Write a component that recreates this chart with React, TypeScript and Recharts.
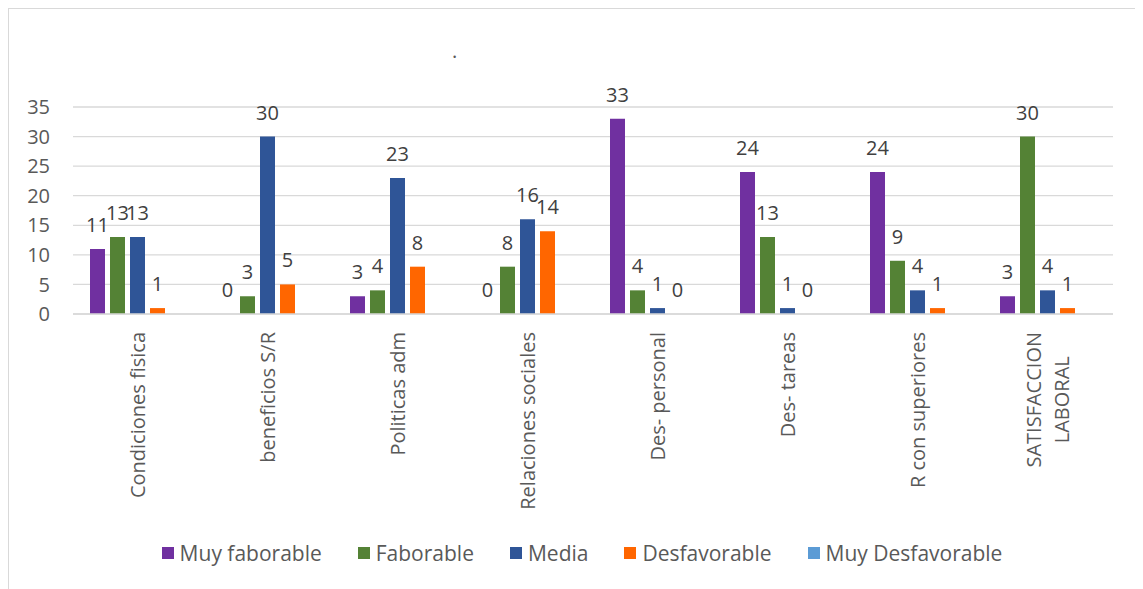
import { BarChart, Bar, XAxis, YAxis, CartesianGrid, Legend, LabelList } from "recharts";

const categories = [
  "Condiciones fisica",
  "beneficios S/R",
  "Politicas adm",
  "Relaciones sociales",
  "Des- personal",
  "Des- tareas",
  "R con superiores",
  "SATISFACCION LABORAL",
];

// how the category names wrap under the axis
const tickLabels = [
  "Condiciones fisica",
  "beneficios S/R",
  "Politicas adm",
  "Relaciones sociales",
  "Des- personal",
  "Des- tareas",
  "R con superiores",
  "SATISFACCION\nLABORAL",
];

const muyFaborable = [11, 0, 3, 0, 33, 24, 24, 3];
const faborable = [13, 3, 4, 8, 4, 13, 9, 30];
const media = [13, 30, 23, 16, 1, 1, 4, 4];
const desfavorable = [1, 5, 8, 14, 0, 0, 1, 1];
const muyDesfavorable = [null, null, null, null, null, null, null, null];

const yTicks = [0, 5, 10, 15, 20, 25, 30, 35];

const series = [
  { key: "muyFaborable", name: "Muy faborable", color: "#7030A0", labels: true },
  { key: "faborable", name: "Faborable", color: "#548235", labels: true },
  { key: "media", name: "Media", color: "#2F5597", labels: true },
  { key: "desfavorable", name: "Desfavorable", color: "#FF6600", labels: true },
  { key: "muyDesfavorable", name: "Muy Desfavorable", color: "#5B9BD5", labels: false },
];

const data = categories.map((c, i) => ({
  name: c,
  muyFaborable: muyFaborable[i],
  faborable: faborable[i],
  media: media[i],
  desfavorable: desfavorable[i],
  muyDesfavorable: muyDesfavorable[i],
}));

const FONT = "'Open Sans', sans-serif";
const FONT_SIZE = 20;

let ctx: CanvasRenderingContext2D | null = null;
const measure = (s: string) => {
  if (!ctx) ctx = document.createElement("canvas").getContext("2d");
  if (!ctx) return s.length * 10;
  ctx.font = `${FONT_SIZE}px ${FONT}`;
  return ctx.measureText(s).width;
};

const XTick = ({ x, y, payload }: any) => {
  const lines = tickLabels[payload.index].split("\n");
  const maxW = Math.max(...lines.map(measure));
  const top = y + 10;
  const cy = top + maxW / 2;
  const lh = 28;
  return (
    <g>
      {lines.map((ln, i) => {
        const cx = x + (i - (lines.length - 1) / 2) * lh;
        return (
          <text
            key={i}
            x={cx}
            y={cy}
            transform={`rotate(-90 ${cx} ${cy})`}
            textAnchor="middle"
            dominantBaseline="central"
            fill="#595959"
            fontSize={FONT_SIZE}
            fontFamily={FONT}
          >
            {ln}
          </text>
        );
      })}
    </g>
  );
};

// value labels, drawn even for zero-height bars
const ValueLabel = (props: any) => {
  const { x, y, width, value } = props;
  if (value === null || value === undefined) return null;
  return (
    <text
      x={x + width / 2}
      y={y - 17}
      textAnchor="middle"
      fill="#404040"
      fontSize={FONT_SIZE}
      fontFamily={FONT}
    >
      {value}
    </text>
  );
};

const LegendBox = () => (
  <div
    style={{
      height: 40,
      display: "flex",
      justifyContent: "center",
      alignItems: "center",
      paddingLeft: 42,
      fontFamily: FONT,
      fontSize: 21,
      color: "#595959",
    }}
  >
    {series.map((s) => (
      <div key={s.key} style={{ display: "flex", alignItems: "center", margin: "0 18px" }}>
        <span style={{ width: 12, height: 12, background: s.color, marginRight: 6 }} />
        <span>{s.name}</span>
      </div>
    ))}
  </div>
);

export default function App() {
  return (
    <div
      style={{
        position: "relative",
        width: 1131,
        height: 580,
        border: "1px solid #d9d9d9",
        fontFamily: FONT,
        background: "#fff",
      }}
    >
      <div
        style={{
          position: "absolute",
          left: 443,
          top: 30,
          fontSize: FONT_SIZE,
          color: "#595959",
          lineHeight: "24px",
        }}
      >
        .
      </div>
      <BarChart
        width={1131}
        height={580}
        data={data}
        margin={{ top: 98, right: 27, left: 0, bottom: 16 }}
        barCategoryGap={17}
        barGap={5}
      >
        <CartesianGrid vertical={false} stroke="#d9d9d9" strokeWidth={1.3} />
        <XAxis
          dataKey="name"
          interval={0}
          height={219}
          tickLine={false}
          axisLine={{ stroke: "#d9d9d9", strokeWidth: 1.3 }}
          tick={<XTick />}
        />
        <YAxis
          width={64}
          domain={[0, 35]}
          ticks={yTicks}
          tickLine={false}
          axisLine={false}
          tickMargin={17}
          tick={{ fill: "#595959", fontSize: FONT_SIZE, fontFamily: FONT }}
        />
        <Legend verticalAlign="bottom" content={<LegendBox />} />
        {series.map((s) => (
          <Bar
            key={s.key}
            dataKey={s.key}
            name={s.name}
            fill={s.color}
            minPointSize={0.01}
            isAnimationActive={false}
          >
            {s.labels && <LabelList dataKey={s.key} content={<ValueLabel />} />}
          </Bar>
        ))}
      </BarChart>
    </div>
  );
}
